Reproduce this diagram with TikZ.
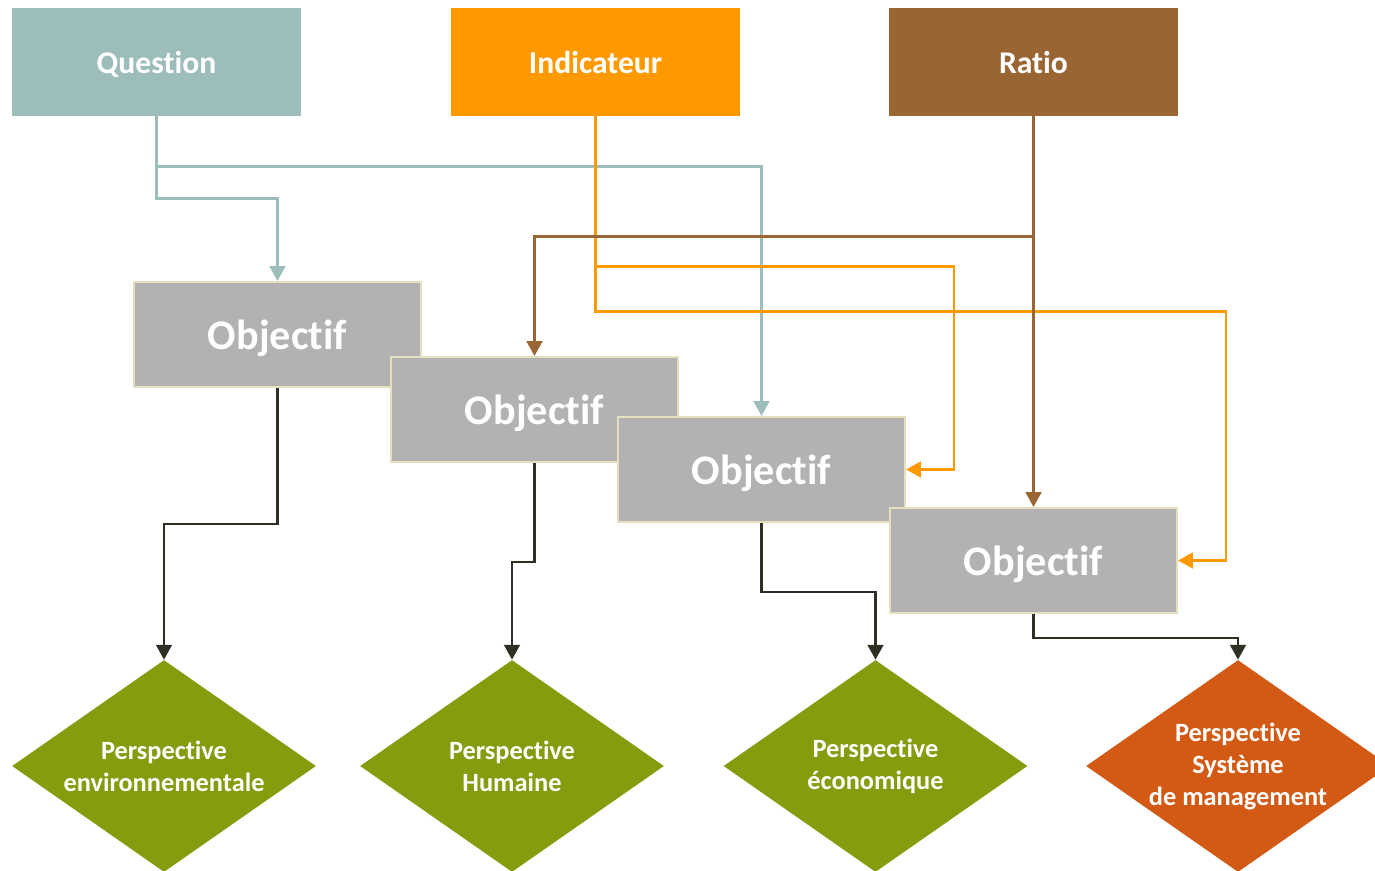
\documentclass[tikz,border=0pt]{standalone}
\usepackage{fontspec}
\setmainfont{Carlito}[Ligatures=NoCommon]
\usetikzlibrary{arrows.meta,shapes.geometric,calc}
\definecolor{quest}{HTML}{9DBDBA}
\definecolor{indic}{HTML}{FF9900}
\definecolor{ratio}{HTML}{996633}
\definecolor{objfill}{HTML}{B2B2B2}
\definecolor{objline}{HTML}{E4E0BE}
\definecolor{persp}{HTML}{869B0D}
\definecolor{perspsm}{HTML}{D35A14}
\definecolor{dark}{HTML}{2F2F24}

\begin{document}
\begin{tikzpicture}[
		x=0.02cm, y=-0.02cm,
		>={Triangle[width=9pt,length=8.5pt]},
		head/.style={rectangle,minimum width=5.78cm,minimum height=2.16cm,inner sep=0pt,
			text depth=0pt,text=white,font=\fontsize{18}{22}\selectfont\bfseries},
		obj/.style={rectangle,draw=objline,fill=objfill,line width=1.2pt,
			minimum width=5.74cm,minimum height=2.1cm,inner sep=0pt,
			text depth=0pt,text=white,font=\fontsize{24}{28}\selectfont\bfseries},
		pers/.style={diamond,fill=persp,minimum width=6.08cm,minimum height=4.24cm,inner sep=0pt},
		perstext/.style={align=center,text=white,inner sep=0pt,
			font=\fontsize{15}{18.2}\selectfont\bfseries},
		link/.style={line width=1.4pt,->}
	]
		\clip (0,0) rectangle (1375,870);
		% top boxes
		\node[head,fill=quest] (q) at (156.5,62) {Question};
		\node[head,fill=indic] (i) at (595.5,62) {Indicateur};
		\node[head,fill=ratio] (r) at (1033.5,62) {Ratio};
		% objectives
		\node[obj] (o1) at (277.5,334.5) {Objectif};
		\node[obj] (o2) at (534.5,409.5) {Objectif};
		\node[obj] (o3) at (761.5,469.5) {Objectif};
		\node[obj] (o4) at (1033.5,560.5) {Objectif};
		% perspectives
		\node[pers] (d1) at (164,766) {};
		\node[pers] (d2) at (512,766) {};
		\node[pers] (d3) at (875.5,766) {};
		\node[pers,fill=perspsm] (d4) at (1238,766) {};
		\node[perstext] (t1) at (d1.center) {Perspective\\environnementale};
		\node[perstext] (t2) at (d2.center) {Perspective\\Humaine};
		\node[perstext] (t3) at (d3.center) {Perspective\\économique};
		\node[perstext] (t4) at (d4.center) {Perspective\\Système\\de management};
		% question
		\draw[link,draw=quest] (q.south) -- ++(0,82) -| (o1.north);
		\draw[link,draw=quest] (q.south) ++(0,50) -| (o3.north);
		% indicateur
		\draw[link,draw=indic]
			(i.south) -- ++(0,150) -| ($(o3.east)+(48,0)$) -- (o3.east);
		\draw[link,draw=indic]
			(i.south) -- ++(0,195) -| ($(o4.east)+(48,0)$) -- (o4.east);
		% ratio
		\draw[link,draw=ratio] (r.south) -- (o4.north);
		\draw[link,draw=ratio] (r.south) ++(0,120) -| (o2.north);
		% objectives to perspectives
		\draw[link,draw=dark] (o1.south) -- ++(0,136) -| (d1.north);
		\draw[link,draw=dark] (o2.south) -- ++(0,99) -| (d2.north);
		\draw[link,draw=dark] (o3.south) -- ++(0,69) -| (d3.north);
		\draw[link,draw=dark] (o4.south) -- ++(0,24) -| (d4.north);
	\end{tikzpicture}
\end{document}
